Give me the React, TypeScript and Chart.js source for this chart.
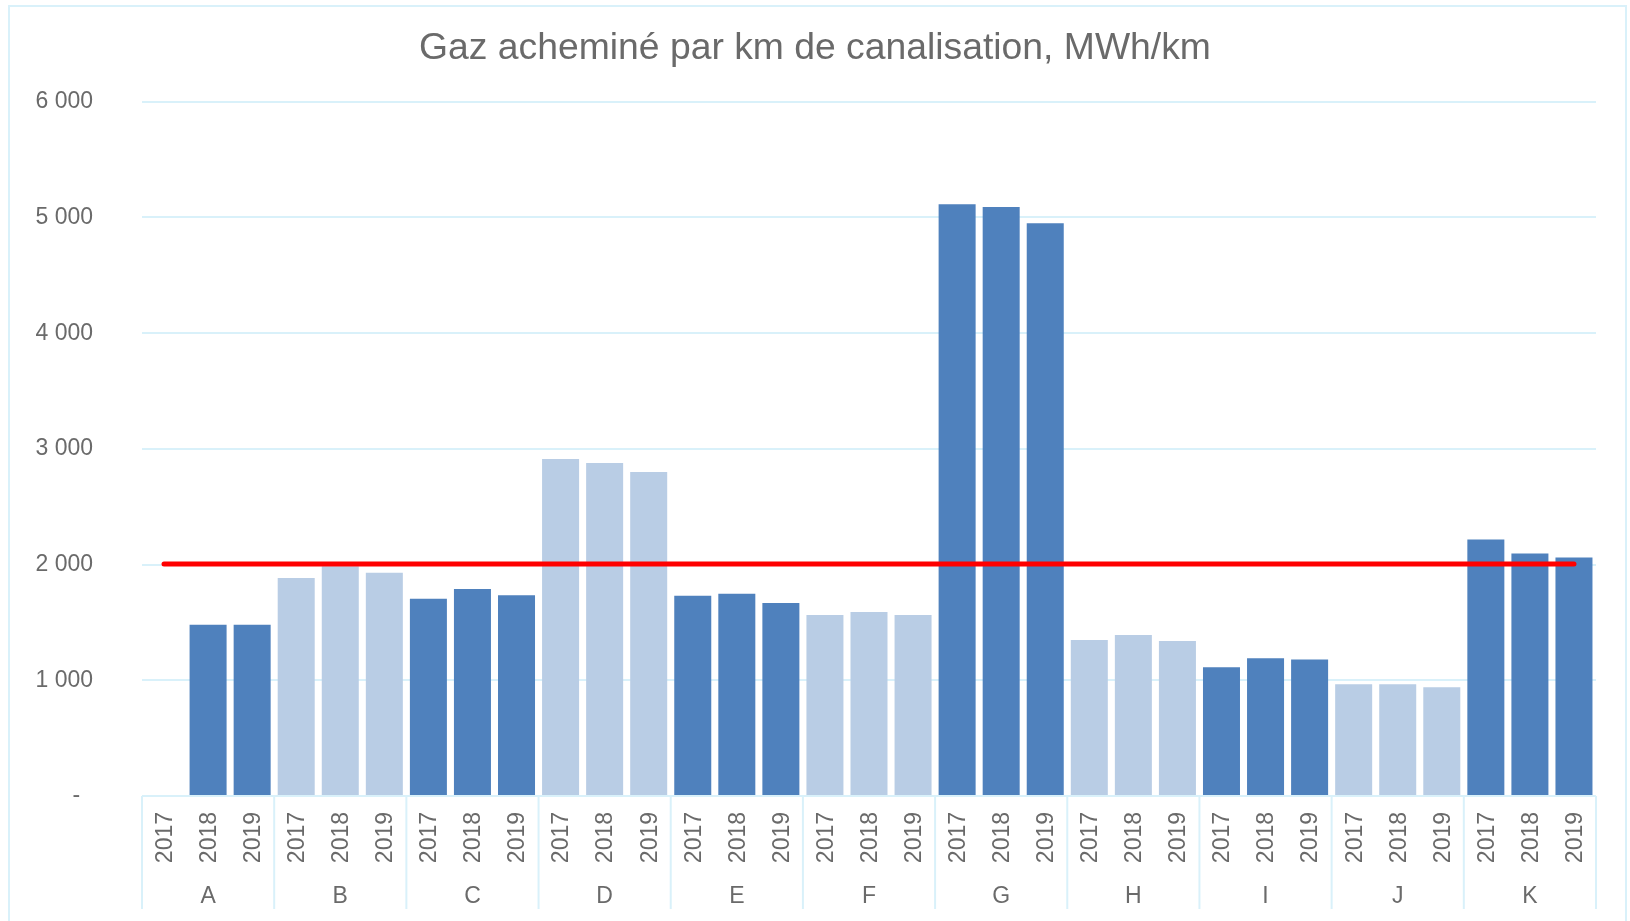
import React, { useEffect, useRef } from "react";
import { Chart, registerables } from "chart.js";

Chart.register(...registerables);

const groups = ["A", "B", "C", "D", "E", "F", "G", "H", "I", "J", "K"];
const years = ["2017", "2018", "2019"];
const values2017 = [null, 1885, 1705, 2913, 1730, 1565, 5115, 1348, 1113, 965, 2217];
const values2018 = [1480, 1985, 1790, 2878, 1748, 1591, 5090, 1391, 1191, 965, 2096];
const values2019 = [1480, 1930, 1736, 2800, 1667, 1565, 4950, 1339, 1180, 939, 2061];
const referenceLevel = 2005;
const yTickValues = [0, 1000, 2000, 3000, 4000, 5000, 6000];
const yTickLabels = ["-  ", "1 000", "2 000", "3 000", "4 000", "5 000", "6 000"];
const titleText = "Gaz acheminé par km de canalisation, MWh/km";

const DARK = "#4F81BD";
const LIGHT = "#B9CDE5";
const GRID = "#D9F1FA";
const TEXT = "#6A6A6A";
const FONT = "'Liberation Sans', Arial, sans-serif";

const yearLabels: string[] = [];
const groupOf: number[] = [];
const barValues: (number | null)[] = [];
groups.forEach((g, gi) => {
  const vals = [values2017[gi], values2018[gi], values2019[gi]];
  years.forEach((y, yi) => {
    yearLabels.push(y);
    groupOf.push(gi);
    barValues.push(vals[yi]);
  });
});
const barColors = groupOf.map((gi) => (gi % 2 === 0 ? DARK : LIGHT));
const refValues = yearLabels.map(() => referenceLevel);

const groupAxisPlugin = {
  id: "groupAxis",
  beforeDraw(chart: any) {
    const ctx = chart.ctx;
    ctx.save();
    ctx.strokeStyle = GRID;
    ctx.lineWidth = 2;
    ctx.strokeRect(9, 6, 1617, 1000);
    ctx.restore();
  },
  afterDraw(chart: any) {
    const { ctx, chartArea } = chart;
    const x = chart.scales.x;
    const base = chartArea.bottom;
    ctx.save();
    ctx.fillStyle = TEXT;
    ctx.font = `23px ${FONT}`;
    for (let i = 0; i < yearLabels.length; i++) {
      const px = x.getPixelForValue(i);
      ctx.save();
      ctx.translate(px + 1.5, base + 16);
      ctx.rotate(-Math.PI / 2);
      ctx.textAlign = "right";
      ctx.textBaseline = "middle";
      ctx.fillText(yearLabels[i], 0, 0);
      ctx.restore();
    }
    ctx.textAlign = "center";
    ctx.textBaseline = "middle";
    groups.forEach((g, gi) => {
      ctx.fillText(g, x.getPixelForValue(gi * 3 + 1), base + 101);
    });
    ctx.strokeStyle = GRID;
    ctx.lineWidth = 2;
    for (let b = 0; b <= groups.length; b++) {
      let bx: number;
      if (b === 0) bx = chartArea.left;
      else if (b === groups.length) bx = chartArea.right;
      else bx = (x.getPixelForValue(b * 3 - 1) + x.getPixelForValue(b * 3)) / 2;
      ctx.beginPath();
      ctx.moveTo(bx, base);
      ctx.lineTo(bx, base + 113);
      ctx.stroke();
    }
    ctx.restore();
  },
};

export default function App() {
  const ref = useRef<HTMLCanvasElement | null>(null);
  useEffect(() => {
    if (!ref.current) return;
    const chart = new Chart(ref.current, {
      type: "bar",
      data: {
        labels: yearLabels,
        datasets: [
          {
            type: "line",
            label: "Référence",
            data: refValues,
            borderColor: "#FF0000",
            borderWidth: 5,
            borderCapStyle: "round",
            pointRadius: 0,
            fill: false,
            order: 0,
            yAxisID: "y",
          } as any,
          {
            type: "bar",
            label: "MWh/km",
            data: barValues,
            backgroundColor: barColors,
            borderWidth: 0,
            categoryPercentage: 1,
            barPercentage: 0.84,
            order: 1,
            yAxisID: "y",
          },
        ],
      },
      options: {
        animation: false,
        responsive: false,
        devicePixelRatio: 1,
        layout: { padding: { top: 0, right: 0, bottom: 0, left: 0 } },
        plugins: {
          legend: { display: false },
          tooltip: { enabled: false },
          title: {
            display: true,
            text: titleText,
            color: TEXT,
            font: { family: FONT, size: 37.3, weight: "normal", lineHeight: 1.2 },
            padding: { top: 26, bottom: 31 },
          },
        },
        scales: {
          x: {
            grid: { display: false },
            border: { display: false },
            ticks: { display: false },
            afterFit: (s: any) => {
              s.height = 125;
            },
          },
          y: {
            min: 0,
            max: 6000,
            afterBuildTicks: (s: any) => {
              s.ticks = yTickValues.map((v) => ({ value: v }));
            },
            afterFit: (s: any) => {
              s.width = 142;
            },
            grid: { color: GRID, lineWidth: 2, drawTicks: false },
            border: { display: false },
            ticks: {
              color: TEXT,
              padding: 49,
              font: { family: FONT, size: 23 },
              callback: (v: any) => {
                const idx = yTickValues.indexOf(Number(v));
                return idx >= 0 ? yTickLabels[idx] : "";
              },
            },
          },
          yRight: {
            position: "right",
            min: 0,
            max: 6000,
            grid: { display: false, drawTicks: false },
            border: { display: false },
            ticks: { display: false },
            afterFit: (s: any) => {
              s.width = 34;
            },
          },
        },
      },
      plugins: [groupAxisPlugin],
    });
    return () => chart.destroy();
  }, []);
  return (
    <div style={{ position: "fixed", left: 0, top: 0, width: 1630, height: 921, background: "#fff" }}>
      <canvas ref={ref} width={1630} height={921} style={{ width: 1630, height: 921, display: "block" }} />
    </div>
  );
}
